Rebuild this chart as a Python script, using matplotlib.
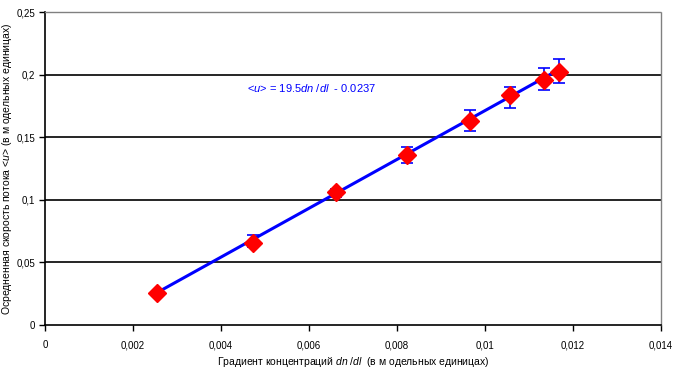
import matplotlib.pyplot as plt
import numpy as np

plt.rcParams['font.family'] = ['Liberation Sans', 'DejaVu Sans']
plt.rcParams['mathtext.fontset'] = 'custom'
plt.rcParams['mathtext.rm'] = 'Liberation Sans'
plt.rcParams['mathtext.it'] = 'Liberation Sans:italic'

# Data
grad = [0.00254, 0.00472, 0.00661, 0.00822, 0.00967, 0.01056, 0.01134, 0.01168]
speed = [0.0255, 0.0654, 0.1063, 0.1356, 0.1627, 0.1840, 0.1954, 0.2020]
err_low = [0.0, 0.0030, 0.0040, 0.0060, 0.0075, 0.0110, 0.0080, 0.0090]
err_high = [0.0, 0.0064, 0.0020, 0.0064, 0.0093, 0.0064, 0.0101, 0.0104]
slope = 19.5
intercept = -0.0237
xticks = [0, 0.002, 0.004, 0.006, 0.008, 0.01, 0.012, 0.014]
yticks = [0, 0.05, 0.1, 0.15, 0.2, 0.25]

fig = plt.figure(figsize=(6.73, 3.78), dpi=100)
ax = fig.add_axes([0.067, 0.14, 0.915, 0.828])

# horizontal grid lines
for y in yticks[1:-1]:
    ax.axhline(y, color='black', lw=1.2, zorder=1)

# trend line
xs = np.array([grad[0], grad[-1]])
ax.plot(xs, slope * xs + intercept, color='#0000ff', lw=2.2, zorder=2)

ax.errorbar(grad, speed, yerr=[err_low, err_high], fmt='none', ecolor='#0000ff',
            elinewidth=1.2, capsize=4, capthick=1.2, zorder=3)
ax.plot(grad, speed, 'D', color='#ff0000', markersize=9.5, zorder=4)

ax.text(0.0046, 0.189, r'<$\it{u}$> = 19.5$\it{dn}$ /$\it{dl}$  - 0.0237',
        color='#0000ff', fontsize=8, va='center')

ax.set_xlim(0, 0.014)
ax.set_ylim(0, 0.25)
ax.set_xticks(xticks)
ax.set_yticks(yticks)
ax.set_xticklabels([('%g' % v).replace('.', ',') for v in xticks], fontsize=7)
ax.set_yticklabels([('%g' % v).replace('.', ',') for v in yticks], fontsize=7)
ax.tick_params(direction='out', length=4, width=1, pad=7, colors='black')
ax.tick_params(axis='y', pad=3)

for s in ['top', 'right']:
    ax.spines[s].set_color('gray')
    ax.spines[s].set_linestyle((0, (1, 1)))
    ax.spines[s].set_linewidth(1)
for s in ['left', 'bottom']:
    ax.spines[s].set_linewidth(1.2)

ax.set_xlabel(r'Градиент концентраций $\it{dn}$ /$\it{dl}$  (в м одельных единицах)', fontsize=7.5)
ax.set_ylabel(r'Осредненная скорость потока <$\it{u}$> (в м одельных единицах)', fontsize=7.5)
ax.xaxis.set_label_coords(0.5, -0.095)
ax.yaxis.set_label_coords(-0.05, 0.5)

fig.savefig('out.png', dpi=100)
